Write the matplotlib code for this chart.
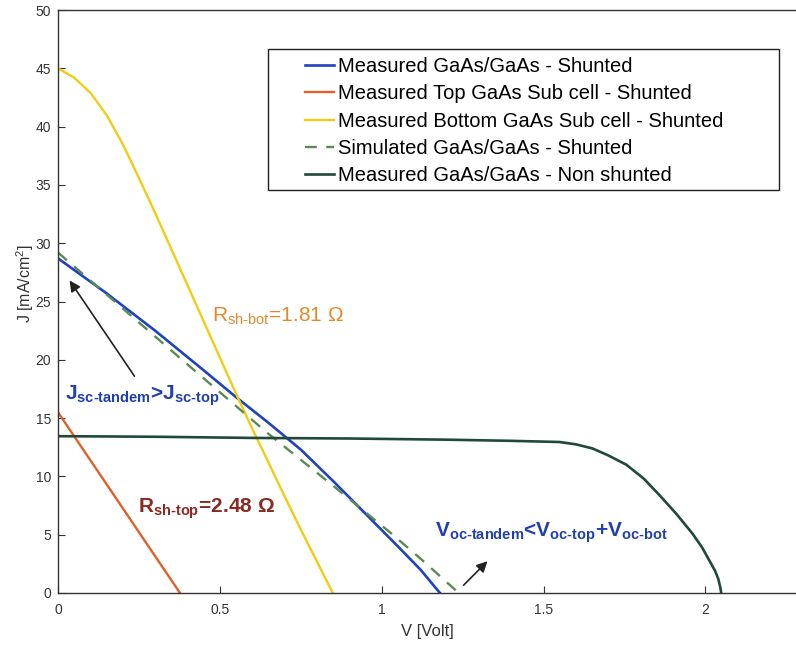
import matplotlib
matplotlib.use("Agg")
import matplotlib.pyplot as plt
from matplotlib.legend_handler import HandlerLine2D
from matplotlib.patches import Rectangle

plt.rcParams['font.family'] = ['Liberation Sans', 'DejaVu Sans']
plt.rcParams['mathtext.fontset'] = 'custom'
plt.rcParams['mathtext.rm'] = 'Liberation Sans'
plt.rcParams['mathtext.bf'] = 'Liberation Sans:bold'
plt.rcParams['mathtext.it'] = 'Liberation Sans:italic'

# measured tandem, shunted
v_tandem = [0, 0.15, 0.30, 0.45, 0.55, 0.65, 0.75, 0.85, 0.95, 1.05, 1.12, 1.18]
j_tandem = [28.7, 25.7, 22.5, 19.1, 16.8, 14.6, 12.3, 9.6, 6.8, 4.0, 2.0, 0]

# top sub cell
v_top = [0, 0.377]
j_top = [15.5, 0]

# bottom sub cell
v_bot = [0, 0.05, 0.10, 0.15, 0.20, 0.25, 0.30, 0.35, 0.40, 0.45, 0.50,
         0.55, 0.60, 0.65, 0.70, 0.75, 0.80, 0.849]
j_bot = [45.0, 44.2, 42.9, 41.0, 38.5, 35.6, 32.6, 29.5, 26.4, 23.3, 20.2,
         17.1, 14.1, 11.2, 8.3, 5.45, 2.7, 0]

# simulated tandem
v_sim = [0, 0.2, 0.4, 0.648, 0.85, 1.03, 1.126, 1.238]
j_sim = [29.2, 24.4, 19.6, 13.7, 9.2, 5.1, 2.8, 0]

# non shunted tandem
v_ns = [0, 0.3, 0.6, 0.9, 1.2, 1.4, 1.549, 1.60, 1.651, 1.70, 1.756, 1.81,
        1.858, 1.91, 1.96, 1.99, 2.012, 2.03, 2.04, 2.046, 2.049]
j_ns = [13.45, 13.4, 13.3, 13.25, 13.15, 13.05, 12.95, 12.75, 12.4, 11.8, 11.0, 9.8,
        8.4, 6.8, 5.1, 3.9, 2.8, 1.9, 1.2, 0.5, 0]

labels = ['Measured GaAs/GaAs - Shunted',
          'Measured Top GaAs Sub cell - Shunted',
          'Measured Bottom GaAs Sub cell - Shunted',
          'Simulated GaAs/GaAs - Shunted',
          'Measured GaAs/GaAs - Non shunted']


class RightLine(HandlerLine2D):
    # draw the legend line only on the right half of the handle box
    def get_xdata(self, legend, xdescent, ydescent, width, height, fontsize):
        x0 = -xdescent + 0.5 * width
        x1 = -xdescent + width
        return [x0, x1], [x0, x1]


fig = plt.figure(figsize=(7.96, 6.49), dpi=100)
ax = fig.add_axes([58 / 796, 56 / 649, 738 / 796, 583 / 649])

ax.plot(v_tandem, j_tandem, color='#1f42c0', lw=1.9, label=labels[0])
ax.plot(v_top, j_top, color='#e0602a', lw=1.7, label=labels[1])
ax.plot(v_bot, j_bot, color='#f2cc14', lw=1.7, label=labels[2])
ax.plot(v_sim, j_sim, color='#5b8a55', lw=1.7, ls=(0, (5, 4)), label=labels[3])
ax.plot(v_ns, j_ns, color='#1f4a3a', lw=1.9, label=labels[4])

ax.set_xlim(0, 2.28)
ax.set_ylim(0, 50)
ax.set_xticks([0, 0.5, 1, 1.5, 2])
ax.set_xticklabels(['0', '0.5', '1', '1.5', '2'])
ax.set_yticks(range(0, 51, 5))
ax.tick_params(direction='in', length=5, labelsize=10, colors='#333333', width=0.8)
ax.tick_params(axis='x', pad=7)
ax.tick_params(axis='y', pad=5)
ax.spines['right'].set_visible(False)
for s in ['top', 'left', 'bottom']:
    ax.spines[s].set_color('#333333')
    ax.spines[s].set_linewidth(1.0)

ax.set_xlabel('V [Volt]', fontsize=12, color='#333333', labelpad=5)
ax.set_ylabel('J [mA/cm$^2$]', fontsize=11.5, color='#333333')
ax.yaxis.set_label_coords(-(58 - 36) / 738, (593 - 284) / 583)

# legend box (MATLAB style, wide padding)
ax.add_patch(Rectangle((268 / 796, 1 - 190 / 649), (779 - 268) / 796, 141 / 649,
                       transform=fig.transFigure, facecolor='white', edgecolor='#222222',
                       lw=1.0, zorder=4, clip_on=False))
leg = ax.legend(loc='upper left', bbox_to_anchor=(268 / 796, 1 - 49 / 649),
                bbox_transform=fig.transFigure, fontsize=14.5, frameon=False,
                handlelength=2.9, labelspacing=0.41, borderpad=0.4, borderaxespad=0,
                handletextpad=0.2, handler_map={matplotlib.lines.Line2D: RightLine()})
leg.set_zorder(5)

ax.annotate('', xy=(0.031, 27.0), xytext=(0.241, 18.4),
            arrowprops=dict(arrowstyle='-|>', color='#222222', lw=1.2, mutation_scale=16))
ax.annotate('', xy=(1.333, 2.9), xytext=(1.247, 0.5),
            arrowprops=dict(arrowstyle='-|>', color='#222222', lw=1.2, mutation_scale=16))

ax.text(0.022, 16.6, 'J$_{\\mathbf{sc\u2010tandem}}$>J$_{\\mathbf{sc\u2010top}}$',
        color='#2040b0', fontsize=15, fontweight='bold')
ax.text(0.475, 23.3, 'R$_{\\mathrm{sh\u2010bot}}$=1.81 Ω', color='#e08a2a', fontsize=15)
ax.text(0.247, 6.9, 'R$_{\\mathbf{sh\u2010top}}$=2.48 Ω', color='#8b2a22', fontsize=15,
        fontweight='bold')
ax.text(1.164, 4.8, 'V$_{\\mathbf{oc\u2010tandem}}$<V$_{\\mathbf{oc\u2010top}}$+V$_{\\mathbf{oc\u2010bot}}$',
        color='#2040b0', fontsize=15, fontweight='bold')

fig.savefig('out.png', dpi=100)
